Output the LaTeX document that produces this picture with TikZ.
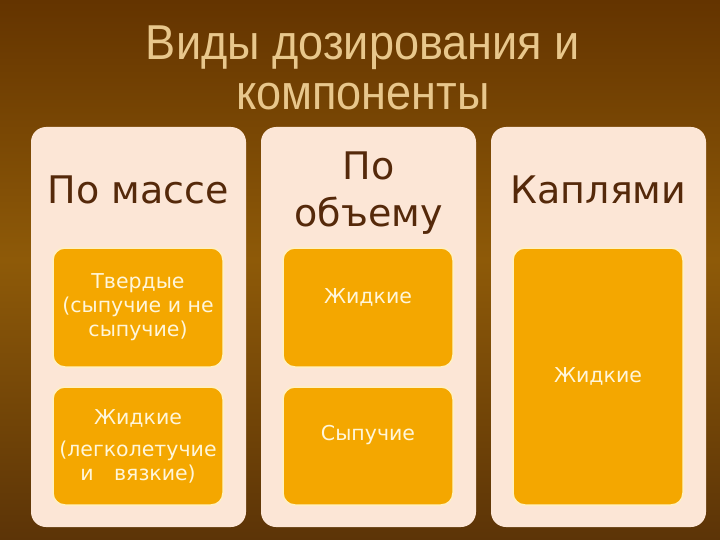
\documentclass[tikz,border=0pt]{standalone}
\usepackage{fontspec}
\setmainfont{DejaVu Sans}
\newfontfamily\titlefont[FakeStretch=0.92]{Liberation Sans}
\definecolor{bgtop}{HTML}{643400}
\definecolor{bgmid}{HTML}{8E5A08}
\definecolor{bglow}{HTML}{5C3407}
\definecolor{titletan}{HTML}{E8C78C}
\definecolor{panelfill}{HTML}{FCE6D6}
\definecolor{headbrown}{HTML}{55290A}
\definecolor{boxorange}{HTML}{F4A700}
\definecolor{boxedge}{HTML}{FFF0C2}
\definecolor{boxtext}{HTML}{FFF6DA}
\tikzset{
	panel/.style={fill=panelfill, rounded corners=15pt, minimum width=215pt, minimum height=400pt, inner sep=0pt},
	itembox/.style={fill=boxorange, draw=boxedge, line width=1.5pt, rounded corners=12pt, minimum width=170pt, inner sep=0pt},
	head/.style={text=headbrown, font=\fontsize{38}{47}\selectfont, align=center},
	itemtext/.style={text=boxtext, font=\fontsize{20.5}{24}\selectfont, align=center}
}
\begin{document}
\begin{tikzpicture}[x=1pt,y=-1pt]
		\shade[top color=bgtop, bottom color=bgmid] (0,0) rectangle (720,260);
		\shade[top color=bgmid, bottom color=bglow] (0,260) rectangle (720,540);
		\node[text=titletan, font=\titlefont\fontsize{49}{50}\selectfont, align=center] (title) at (363,68) {Виды дозирования и\\компоненты};
		% three columns
		\node[panel] (mass) at (138.5,327) {};
		\node[panel] (volume) at (368.5,327) {};
		\node[panel] (drops) at (598.5,327) {};
		\node[head] (massh) at (138.5,190) {По массе};
		\node[head] (volumeh) at (368.5,193) {По\\объему};
		\node[head] (dropsh) at (598.5,190) {Каплями};
		% boxes
		\node[itembox, minimum height=119pt] (solid) at (138,307.5) {};
		\node[itembox, minimum height=118pt] (liquid) at (138,446) {};
		\node[itembox, minimum height=119pt] (vliquid) at (368,307.5) {};
		\node[itembox, minimum height=118pt] (vbulk) at (368,446) {};
		\node[itembox, minimum height=257pt] (dliquid) at (598,376.5) {};
		\node[itemtext] (solidt) at (solid) {Твердые\\(сыпучие и не\\сыпучие)};
		\node[itemtext] (liquidt) at (138,446) {Жидкие\\[8pt](легколетучие\\и\quad вязкие)};
		\node[itemtext] (vliquidt) at (368,297) {Жидкие};
		\node[itemtext] (vbulkt) at (368,435) {Сыпучие};
		\node[itemtext] (dliquidt) at (dliquid) {Жидкие};
	    \end{tikzpicture}
\end{document}
